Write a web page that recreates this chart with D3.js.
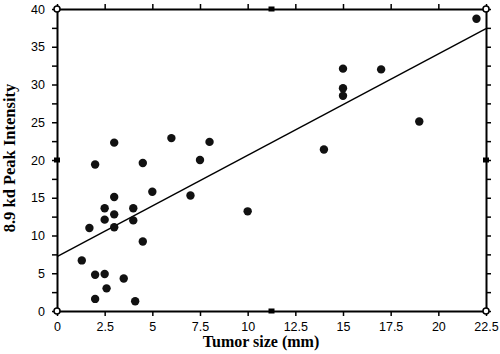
<!DOCTYPE html>
<html>
<head>
<meta charset="utf-8">
<script src="https://cdnjs.cloudflare.com/ajax/libs/d3/7.8.5/d3.min.js"></script>
<style>
  body { margin: 0; background: #fff; }
  .tick text { font-family: "Liberation Sans", Arial, sans-serif; font-size: 12.5px; fill: #000; }
  .axis-title { font-family: "Liberation Serif", "Times New Roman", serif; font-size: 16px; font-weight: bold; }
</style>
</head>
<body>
<div id="chart"></div>
<script>
const tumorSize = [1.3, 1.7, 2, 2, 2, 2.5, 2.5, 2.5, 2.6, 3, 3, 3, 3, 3.5, 4, 4, 4.1, 4.5, 4.5, 5,
                   6, 7, 7.5, 8, 10, 14, 15, 15, 15, 17, 19, 22];
const peakIntensity = [6.7, 11, 19.4, 4.8, 1.6, 13.6, 12.1, 4.9, 3.0, 22.3, 15.1, 12.8, 11.1, 4.3, 13.6, 12, 1.3, 19.6, 9.2, 15.8,
                       22.9, 15.3, 20, 22.4, 13.2, 21.4, 32.1, 29.5, 28.5, 32, 25.1, 38.7];
const fitLine = [[0, 7.2], [22.5, 37.4]];
const xTicks = [0, 2.5, 5, 7.5, 10, 12.5, 15, 17.5, 20, 22.5];
const yTicks = [0, 5, 10, 15, 20, 25, 30, 35, 40];
const yMinorTicks = d3.range(0, 40.1, 2.5);

const margin = { top: 9, right: 14, bottom: 43, left: 57 },
      width = 486 - 57,
      height = 311 - 9;

const svg = d3.select("#chart")
  .append("svg")
  .attr("width", 500)
  .attr("height", 354)
  .append("g")
  .attr("transform", `translate(${margin.left},${margin.top})`);

const x = d3.scaleLinear().domain([0, 22.5]).range([0, width]);
const y = d3.scaleLinear().domain([0, 40]).range([height, 0]);

function styleAxis(g) {
  g.select(".domain").attr("stroke", "#000").attr("stroke-width", 2);
  g.selectAll(".tick line").attr("stroke", "#000").attr("stroke-width", 1.5);
}

// bottom
svg.append("g")
  .attr("transform", `translate(0,${height})`)
  .call(d3.axisBottom(x).tickValues(xTicks).tickSize(5).tickSizeOuter(0)
    .tickFormat(d => d3.format("")(d)).tickPadding(6))
  .call(styleAxis);

// top
svg.append("g")
  .call(d3.axisTop(x).tickValues(xTicks).tickSize(5).tickSizeOuter(0).tickFormat(""))
  .call(styleAxis);

// left
svg.append("g")
  .call(d3.axisLeft(y).tickValues(yMinorTicks).tickSize(5).tickSizeOuter(0)
    .tickFormat(d => yTicks.includes(d) ? d : "").tickPadding(7))
  .call(styleAxis);

// right
svg.append("g")
  .attr("transform", `translate(${width},0)`)
  .call(d3.axisRight(y).tickValues(yMinorTicks).tickSize(5).tickSizeOuter(0).tickFormat(""))
  .call(styleAxis);

// regression line
svg.append("line")
  .attr("x1", x(fitLine[0][0])).attr("y1", y(fitLine[0][1]))
  .attr("x2", x(fitLine[1][0])).attr("y2", y(fitLine[1][1]))
  .attr("stroke", "#000")
  .attr("stroke-width", 1.4);

// points
svg.selectAll("circle.pt")
  .data(tumorSize.map((d, i) => [d, peakIntensity[i]]))
  .enter()
  .append("circle")
  .attr("class", "pt")
  .attr("cx", d => x(d[0]))
  .attr("cy", d => y(d[1]))
  .attr("r", 4.2)
  .attr("fill", "#111");

// frame handles
const corners = [[0, 0], [0, 40], [22.5, 40], [22.5, 0]];
const mids = [[11.25, 0], [11.25, 40], [0, 20], [22.5, 20]];
svg.selectAll("circle.handle")
  .data(corners)
  .enter()
  .append("circle")
  .attr("class", "handle")
  .attr("cx", d => x(d[0]))
  .attr("cy", d => y(d[1]))
  .attr("r", 3)
  .attr("fill", "#fff")
  .attr("stroke", "#000")
  .attr("stroke-width", 1.5);
svg.selectAll("rect.handle")
  .data(mids)
  .enter()
  .append("rect")
  .attr("class", "handle")
  .attr("x", d => x(d[0]) - 3)
  .attr("y", d => y(d[1]) - 2.5)
  .attr("width", 6)
  .attr("height", 5)
  .attr("fill", "#000");

// axis titles
svg.append("text")
  .attr("class", "axis-title")
  .attr("x", 261 - margin.left)
  .attr("y", height + 36)
  .attr("text-anchor", "middle")
  .text("Tumor size (mm)");
svg.append("text")
  .attr("class", "axis-title")
  .attr("transform", "rotate(-90)")
  .attr("x", -(158 - margin.top))
  .attr("y", -42)
  .style("font-size", "16.5px")
  .attr("text-anchor", "middle")
  .text("8.9 kd Peak Intensity");
</script>
</body>
</html>
